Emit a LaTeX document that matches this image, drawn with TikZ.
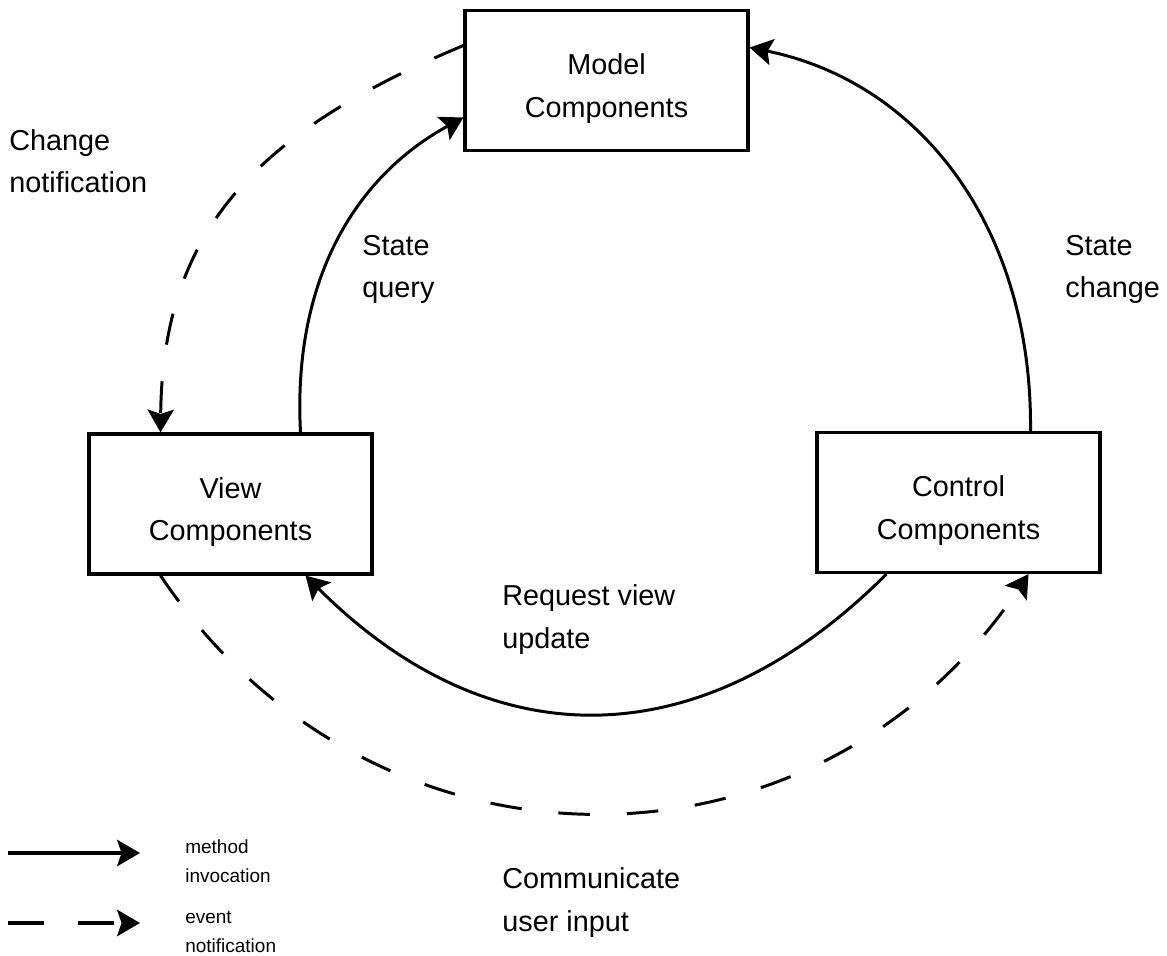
\documentclass[tikz,border=0pt]{standalone}
\usepackage{fontspec}
\setmainfont{Liberation Sans}
\usetikzlibrary{arrows.meta,calc}

% raises the first line of a component label inside its box
\newcommand\firstlinestrut{\rule{0pt}{21pt}}

\begin{document}
\begin{tikzpicture}[x=0.02cm,y=-0.02cm,
  comp/.style={draw, line width=1.8pt, minimum width=5.66cm, minimum height=2.8cm,
    inner sep=0pt, align=center, font=\fontsize{16.4}{24.4}\selectfont},
  % labels are placed by the baseline of their last line
  lbl/.style={anchor=base west, inner sep=0pt, align=left,
    font=\fontsize{16.4}{24.4}\selectfont},
  legendtext/.style={anchor=base west, inner sep=0pt, align=left,
    font=\fontsize{10.8}{16.2}\selectfont},
  call/.style={line width=1.7pt, -{Stealth[length=13pt,width=15pt,inset=2.5pt]}},
  event/.style={call, dash pattern=on 18pt off 21pt}]

\useasboundingbox (0,0) rectangle (1167,956);

% components
\node[comp] (model)   at (606.5,80.5) {\firstlinestrut Model\\Components};
\node[comp] (view)    at (230.5,504)  {\firstlinestrut View\\Components};
\node[comp] (control) at (958.5,502.5){\firstlinestrut Control\\Components};

% method invocations
\draw[call] ($(view.north)+(70,0)$) .. controls +(-8,-150) and +(-110,60) .. ($(model.west)+(0,37)$);
\draw[call] ($(control.north)+(72,0)$) .. controls +(2,-202) and +(172,35) .. ($(model.east)+(0,-33)$);
\draw[call] ($(control.south)+(-72,0)$) .. controls +(-185,185) and +(185,185) .. ($(view.south)+(75,0)$);

% event notifications
\draw[event] ($(model.west)+(0,-35)$) .. controls +(-206,86) and +(2,-203) .. ($(view.north)+(-70,0)$);
\draw[event] ($(view.south)+(-70,0)$) .. controls +(212,317) and +(-212,317) .. ($(control.south)+(70,0)$);

% connector labels
\node[lbl] (lchange)  at (9,193)    {Change\\notification};
\node[lbl] (lquery)   at (362,298)  {State\\query};
\node[lbl] (lstate)   at (1065,298) {State\\change};
\node[lbl] (lrequest) at (502,648)  {Request view\\update};
\node[lbl] (linput)   at (502,931)  {Communicate\\user input};

% legend
\coordinate (m0) at (8,853);
\coordinate (m1) at (140,853);
\draw[call, line width=1.9pt] (m0) -- (m1);
\coordinate (e0) at (8,923);
\coordinate (e1) at (140,923);
\draw[event, line width=1.9pt, dash pattern=on 20.4pt off 19.3pt] (e0) -- (e1);
\node[legendtext] (lmethod) at (185,882) {method\\invocation};
\node[legendtext] (levent)  at (185,952) {event\\notification};

\end{tikzpicture}
\end{document}
